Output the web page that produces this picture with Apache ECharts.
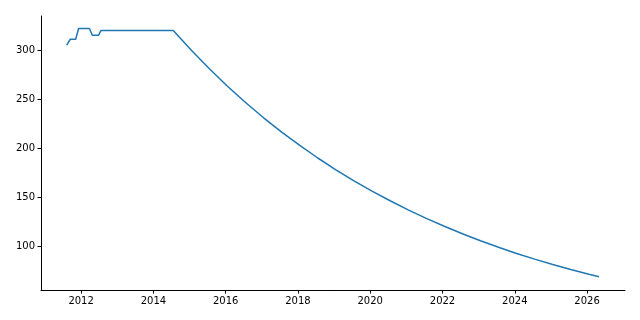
<!DOCTYPE html>
<html>
<head>
<meta charset="utf-8">
<script src="https://cdn.jsdelivr.net/npm/echarts@6/dist/echarts.min.js"></script>
<style>html,body{margin:0;padding:0;background:#fff}#c{width:640px;height:320px}</style>
</head>
<body>
<div id="c"></div>
<script>
var years = [2011.60, 2011.70, 2011.85, 2011.93, 2012.23, 2012.31, 2012.48, 2012.55, 2014.55,
  2015.05, 2015.55, 2016.05, 2016.55, 2017.05, 2017.55, 2018.05, 2018.55, 2019.05, 2019.55,
  2020.05, 2020.55, 2021.05, 2021.55, 2022.05, 2022.55, 2023.05, 2023.55, 2024.05, 2024.55,
  2025.05, 2025.55, 2026.05, 2026.33];
var values = [305, 311, 311, 322, 322, 315, 315, 320, 320,
  299.8, 280.9, 263.1, 246.5, 230.9, 216.3, 202.7, 189.9, 177.9, 166.6,
  156.1, 146.3, 137.0, 128.4, 120.3, 112.7, 105.5, 98.9, 92.6, 86.8,
  81.3, 76.2, 71.4, 68.9];
var xTicks = [2012, 2014, 2016, 2018, 2020, 2022, 2024, 2026];
var yTicks = [100, 150, 200, 250, 300];

var data = years.map(function (y, i) { return [y, values[i]]; });
var font = 'DejaVu Sans';
var plain = function (v) { return String(Math.round(v)); };
var chart = echarts.init(document.getElementById('c'), null, {renderer: 'canvas'});
chart.setOption({
  animation: false,
  grid: {left: 41, right: 15, top: 16, bottom: 30, containLabel: false},
  xAxis: {
    type: 'value', min: 2010.89, max: 2027.05,
    axisLine: {show: true, lineStyle: {color: '#000', width: 1}},
    axisTick: {show: true, length: 3.5, customValues: xTicks, lineStyle: {color: '#000', width: 1}},
    axisLabel: {customValues: xTicks, formatter: plain, color: '#000', fontFamily: font, fontSize: 10, margin: 6},
    splitLine: {show: false}
  },
  yAxis: {
    type: 'value', min: 55.3, max: 334.7,
    axisLine: {show: true, lineStyle: {color: '#000', width: 1}},
    axisTick: {show: true, length: 3.5, customValues: yTicks, lineStyle: {color: '#000', width: 1}},
    axisLabel: {customValues: yTicks, formatter: plain, color: '#000', fontFamily: font, fontSize: 10, margin: 6},
    splitLine: {show: false}
  },
  series: [{
    type: 'line', data: data, showSymbol: false, smooth: false,
    lineStyle: {color: '#1f77b4', width: 1.5}
  }]
});
</script>
</body>
</html>
